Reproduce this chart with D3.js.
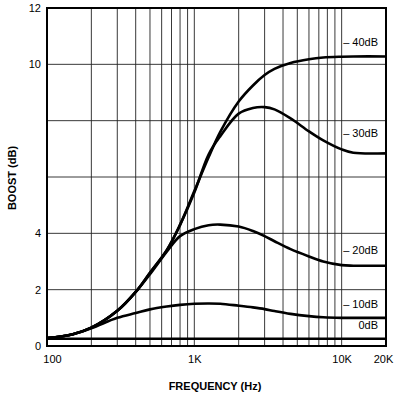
<!DOCTYPE html>
<html>
<head>
<meta charset="utf-8">
<script src="https://cdn.jsdelivr.net/npm/d3@7"></script>
<style>
  body { margin: 0; background: #fff; }
  svg { display: block; font-family: "Liberation Sans", Arial, sans-serif; }
</style>
</head>
<body>
<svg id="chart" width="394" height="394"></svg>
<script>
// frequency points (Hz) shared by every curve
const freqs = [100, 150, 200, 300, 400, 500, 650, 800, 1000, 1250, 1500, 2000, 2500, 3000, 3500, 4500, 6000, 7500, 10000, 12000, 20000];

// boost (dB) for each cut setting
const boost40 = [0.28, 0.42, 0.65, 1.25, 1.92, 2.6, 3.4, 4.3, 5.5, 6.7, 7.6, 8.68, 9.25, 9.62, 9.84, 10.05, 10.18, 10.24, 10.27, 10.28, 10.28];
const boost30 = [0.28, 0.42, 0.65, 1.25, 1.92, 2.6, 3.4, 4.3, 5.45, 6.8, 7.45, 8.25, 8.45, 8.48, 8.4, 8.08, 7.62, 7.3, 6.98, 6.86, 6.84];
const boost20 = [0.28, 0.42, 0.65, 1.25, 1.92, 2.55, 3.35, 3.9, 4.15, 4.29, 4.31, 4.24, 4.08, 3.9, 3.72, 3.44, 3.18, 3.0, 2.87, 2.85, 2.85];
const boost10 = [0.28, 0.42, 0.63, 1.0, 1.17, 1.3, 1.4, 1.46, 1.5, 1.51, 1.5, 1.43, 1.37, 1.31, 1.24, 1.14, 1.06, 1.02, 1.0, 1.0, 1.0];
const boost0  = [0.26, 0.26, 0.26, 0.26, 0.26, 0.26, 0.26, 0.26, 0.26, 0.26, 0.26, 0.26, 0.26, 0.26, 0.26, 0.26, 0.26, 0.26, 0.26, 0.26, 0.26];

const seriesNames = ['– 40dB', '– 30dB', '– 20dB', '– 10dB', '0dB'];
const seriesValues = [boost40, boost30, boost20, boost10, boost0];

const xTickValues = [100, 1000, 10000, 20000];
const xTickLabels = ['100', '1K', '10K', '20K'];
const xGridValues = [200, 300, 400, 500, 600, 700, 800, 900, 1000, 2000, 3000, 4000, 5000, 6000, 7000, 8000, 9000, 10000];
const yTickValues = [0, 2, 4, 10, 12];
const yGridValues = [2, 4, 6, 8, 10];

const svg = d3.select('#chart');
const plotLeft = 47, plotRight = 386, plotTop = 8, plotBottom = 346;

const x = d3.scaleLog().domain([100, 20000]).range([plotLeft, plotRight]);
const y = d3.scaleLinear().domain([0, 12]).range([plotBottom, plotTop]);

// grid
svg.append('g')
  .selectAll('line')
  .data(xGridValues)
  .enter().append('line')
  .attr('x1', d => x(d)).attr('x2', d => x(d))
  .attr('y1', plotTop).attr('y2', plotBottom)
  .attr('stroke', '#222')
  .attr('stroke-width', 0.9);

svg.append('g')
  .selectAll('line')
  .data(yGridValues)
  .enter().append('line')
  .attr('x1', plotLeft).attr('x2', plotRight)
  .attr('y1', d => y(d)).attr('y2', d => y(d))
  .attr('stroke', '#222')
  .attr('stroke-width', 0.9);

// frame
svg.append('rect')
  .attr('x', plotLeft).attr('y', plotTop)
  .attr('width', plotRight - plotLeft).attr('height', plotBottom - plotTop)
  .attr('fill', 'none')
  .attr('stroke', '#000')
  .attr('stroke-width', 2);

// axes (labels only)
const xAxis = svg.append('g')
  .attr('transform', `translate(0,${plotBottom})`)
  .call(d3.axisBottom(x).tickValues(xTickValues).tickSize(0).tickPadding(9)
    .tickFormat((d, i) => xTickLabels[i]));
xAxis.select('.domain').remove();
xAxis.selectAll('text')
  .attr('font-size', 11)
  .attr('font-family', '"Liberation Sans", Arial, sans-serif')
  .attr('fill', '#000')
  .attr('dx', (d, i) => i === 0 ? 5 : (i === xTickValues.length - 1 ? -3 : 0));

const yAxis = svg.append('g')
  .attr('transform', `translate(${plotLeft},0)`)
  .call(d3.axisLeft(y).tickValues(yTickValues).tickSize(0).tickPadding(6));
yAxis.select('.domain').remove();
yAxis.selectAll('text')
  .attr('font-size', 11)
  .attr('font-family', '"Liberation Sans", Arial, sans-serif')
  .attr('fill', '#000');

svg.append('text')
  .attr('x', 215).attr('y', 390)
  .attr('text-anchor', 'middle')
  .attr('font-size', 11)
  .attr('font-weight', 'bold')
  .text('FREQUENCY (Hz)');

svg.append('text')
  .attr('transform', 'translate(16,178) rotate(-90)')
  .attr('text-anchor', 'middle')
  .attr('font-size', 11)
  .attr('font-weight', 'bold')
  .text('BOOST (dB)');

// curves
const line = d3.line()
  .x(d => x(d[0]))
  .y(d => y(d[1]))
  .curve(d3.curveCatmullRom.alpha(0.5));

svg.append('g')
  .selectAll('path')
  .data(seriesValues)
  .enter().append('path')
  .attr('d', vals => line(freqs.map((f, i) => [f, vals[i]])))
  .attr('fill', 'none')
  .attr('stroke', '#000')
  .attr('stroke-width', 2.6);

// curve labels, placed just above the flat right end of each curve
const labelOffsets = [-10, -16, -12, -10, -10];
svg.append('g')
  .selectAll('text')
  .data(seriesNames)
  .enter().append('text')
  .attr('x', 378)
  .attr('y', (d, i) => y(seriesValues[i][seriesValues[i].length - 1]) + labelOffsets[i])
  .attr('text-anchor', 'end')
  .attr('font-size', 11)
  .text(d => d);
</script>
</body>
</html>
